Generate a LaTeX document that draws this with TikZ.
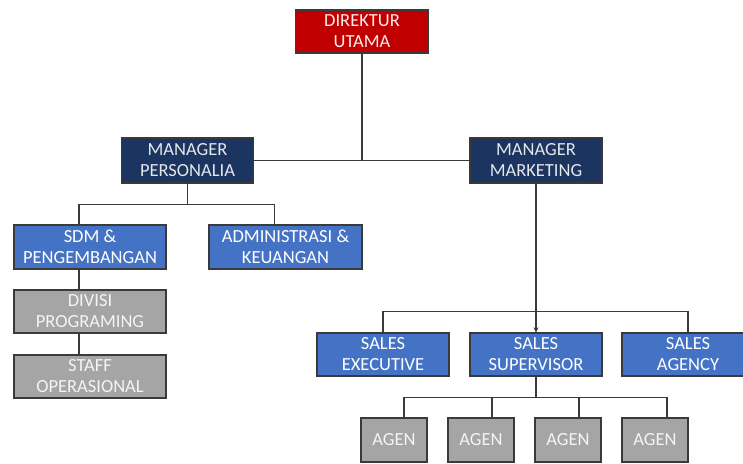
\documentclass[tikz,border=0pt]{standalone}
\usepackage{fontspec}
\setmainfont{Carlito}
\usepackage{xcolor}
\usetikzlibrary{arrows.meta,positioning,calc}

\definecolor{dirred}{HTML}{C00000}
\definecolor{navy}{HTML}{1B3460}
\definecolor{midblue}{HTML}{4472C4}
\definecolor{boxgrey}{HTML}{A5A5A5}
\definecolor{linegrey}{HTML}{3A3A3A}

\begin{document}
\begin{tikzpicture}[
    x=1pt, y=-1pt,
    box/.style={rectangle, draw=linegrey, line width=1.3pt, align=center, inner sep=0pt,
        font=\fontsize{18.5}{21}\selectfont},
    top/.style={box, fill=dirred, text=red!8, minimum width=133pt, minimum height=43pt},
    manager/.style={box, fill=navy, text=white!88!navy, minimum width=132pt, minimum height=45pt},
    dept/.style={box, fill=midblue, text=white, minimum height=44pt},
    staff/.style={box, fill=boxgrey, text=white!88!boxgrey, minimum height=43pt},
    link/.style={draw=linegrey, line width=1.6pt}
]
    \useasboundingbox[fill=white] (0,0) rectangle (743,463);

    % Top
    \node[top] (dir) at (362,31.5) {DIREKTUR\\UTAMA};

    % Managers
    \node[manager] (mp) at (187.5,160.5) {MANAGER\\PERSONALIA};
    \node[manager] (mm) at (536,160.5) {MANAGER\\MARKETING};

    % Personalia side
    \node[dept, minimum width=152pt] (sdm) at (90,247) {SDM \&\\PENGEMBANGAN};
    \node[dept, minimum width=153pt] (adm) at (285.5,247) {ADMINISTRASI \&\\KEUANGAN};
    \node[staff, minimum width=152pt] (div) at (90,311.5) {DIVISI\\PROGRAMING};
    \node[staff, minimum width=152pt] (ops) at (90,376.5) {STAFF\\OPERASIONAL};

    % Marketing side
    \node[dept, minimum width=132pt, minimum height=43pt] (exec) at (383,354.5) {SALES\\EXECUTIVE};
    \node[dept, minimum width=132pt, minimum height=43pt] (sup) at (536,354.5) {SALES\\SUPERVISOR};
    \node[dept, minimum width=132pt, minimum height=43pt] (agency) at (688,354.5) {SALES\\AGENCY};

    % Agents
    \node[staff, minimum width=66pt, minimum height=44pt] (ag1) at (394,440) {AGEN};
    \node[staff, minimum width=66pt, minimum height=44pt] (ag2) at (481,440) {AGEN};
    \node[staff, minimum width=66pt, minimum height=44pt] (ag3) at (568,440) {AGEN};
    \node[staff, minimum width=66pt, minimum height=44pt] (ag4) at (655,440) {AGEN};

    % Lines
    \draw[link] (mp.east) -- (mm.west);
    \draw[link] (dir.south) -- (dir.south |- mp.east);
    \draw[link] (mp.south) -- ++(0,21) -| ([xshift=-11pt]sdm.north);
    \draw[link] (mp.south) -- ++(0,21) -| ([xshift=-11pt]adm.north);
    \draw[link] ([xshift=-11pt]sdm.south) -- ([xshift=-11pt]div.north);
    \draw[link] ([xshift=-11pt]div.south) -- ([xshift=-11pt]ops.north);

    \draw[link, -{Stealth[length=5pt,width=5pt]}] (mm.south) -- (sup.north);
    \draw[link] (exec.north) -- ++(0,-21) -| (agency.north);

    \draw[link] (sup.south) -- ++(0,21) -| ([xshift=10pt]ag1.north);
    \draw[link] (sup.south) -- ++(0,21) -| ([xshift=11pt]ag2.north);
    \draw[link] (sup.south) -- ++(0,21) -| ([xshift=11pt]ag3.north);
    \draw[link] (sup.south) -- ++(0,21) -| ([xshift=12pt]ag4.north);
\end{tikzpicture}
\end{document}
